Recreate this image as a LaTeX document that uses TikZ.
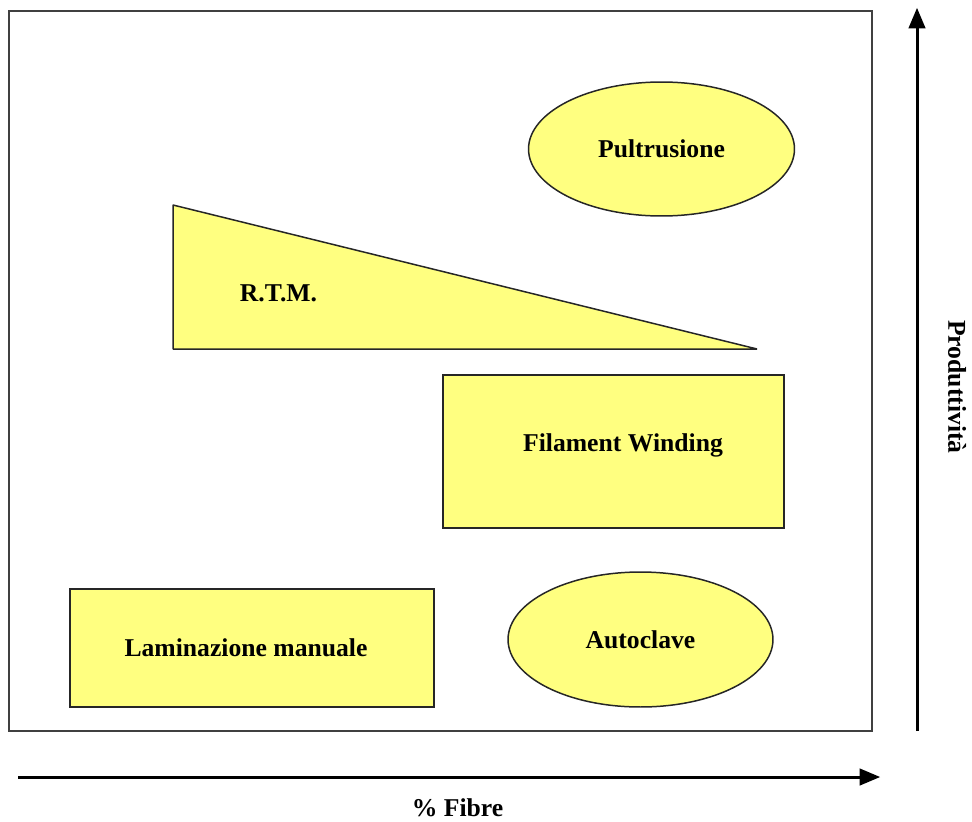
\documentclass[tikz,border=0pt]{standalone}
\usepackage{fontspec}
\setmainfont{Liberation Serif}
\usepackage{tikz}
\usetikzlibrary{arrows,shapes.geometric,positioning}
\definecolor{paleyellow}{RGB}{255,255,128}

\begin{document}
\begin{tikzpicture}[>=triangle 45,x=0.02cm,y=-0.02cm,
    font=\fontsize{14.6}{17}\selectfont\bfseries,
    proc/.style={draw=black!85,fill=paleyellow,line width=0.85pt,inner sep=0pt},
    procbox/.style={proc,rectangle},
    procoval/.style={proc,ellipse},
    axis/.style={->,line width=1.7pt}]
  \useasboundingbox (0,0) rectangle (972,821);
  \node[draw=black!75,line width=0.85pt,minimum width=17.26cm,minimum height=14.4cm] (frame) at (440.5,371) {};

  \node[procoval] (pul) [minimum width=5.32cm,minimum height=2.68cm] at (661.5,149) {Pultrusione};
  \node[procbox]  (fw)  [minimum width=6.82cm,minimum height=3.06cm,
                         label={[shift={(9.5,-6.5)}]center:Filament Winding}] at (613.5,451.5) {};
  \node[procbox]  (lam) [minimum width=7.28cm,minimum height=2.36cm,
                         label={[shift={(-6,0)}]center:Laminazione manuale}] at (252,648) {};
  \node[procoval] (aut) [minimum width=5.3cm,minimum height=2.7cm] at (640.5,639.5) {Autoclave};

  % R.T.M. wedge
  \coordinate (rtmA) at (173,205);
  \coordinate (rtmB) at (173,349);
  \coordinate (rtmC) at (757,349);
  \filldraw[proc,line join=bevel] (rtmA) -- (rtmB) -- (rtmC) -- cycle;
  \node (rtm) at (278.5,293) {R.T.M.};

  % axes
  \coordinate (x0) at (18,777);
  \coordinate (x1) at (880,777);
  \coordinate (y0) at (917,731);
  \coordinate (y1) at (917,8);
  \draw[axis] (x0) -- (x1);
  \draw[axis] (y0) -- (y1);
  \node (fib) at (457.5,808) {\% Fibre};
  \node[rotate=-90] (prod) at (957,387) {Produttività};
\end{tikzpicture}
\end{document}
